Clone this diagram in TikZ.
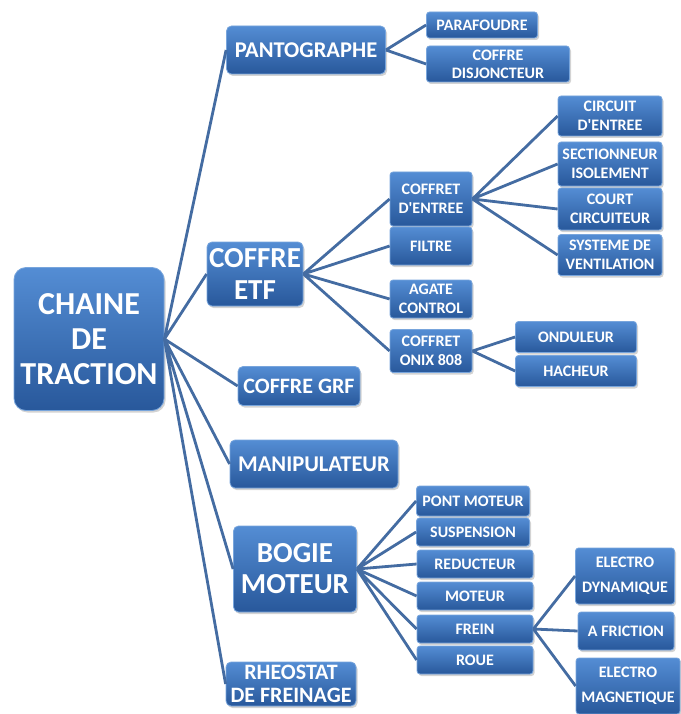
\documentclass[tikz,border=0pt]{standalone}
\usepackage{fontspec}
\setmainfont{Carlito}
\usetikzlibrary{shadows}
\definecolor{boxtop}{RGB}{84,141,212}
\definecolor{boxbot}{RGB}{40,88,155}
\definecolor{boxedge}{RGB}{120,165,220}
\definecolor{lien}{RGB}{68,108,162}
\tikzset{
	boite/.style = {align=center, inner sep=0pt, text centered, text=white,
		rounded corners=3pt, top color=boxtop, bottom color=boxbot,
		draw=boxedge, line width=0.8pt,
		drop shadow={opacity=0.35, shadow xshift=1.5pt, shadow yshift=-2pt}},
	racine/.style = {boite, rounded corners=12pt,
		font=\fontsize{32}{35}\selectfont\bfseries},% noeud principal
	niv_a/.style = {boite, rounded corners=5pt,
		font=\fontsize{22.5}{25}\selectfont\bfseries},% premier niveau
	niv_b/.style = {boite, font=\fontsize{16}{19}\selectfont\bfseries},% sous-ensembles
	lien/.style = {draw=lien, line width=2.8pt}
}
\begin{document}
\begin{tikzpicture}[x=1pt,y=-1pt]
	\useasboundingbox (0,0) rectangle (680,714);
	% racine
	\node [racine, minimum width=150pt, minimum height=143pt] (chaine) at (89,339) {CHAINE\\DE\\TRACTION};
	% premier niveau
	\node [niv_a, minimum width=159pt, minimum height=48pt] (panto) at (306,50) {PANTOGRAPHE};
	\node [niv_a, font=\fontsize{29}{32}\selectfont\bfseries, minimum width=96pt, minimum height=64pt] (etf) at (255,274) {COFFRE\\ETF};
	\node [niv_a, font=\fontsize{22}{25}\selectfont\bfseries, minimum width=122pt, minimum height=39pt] (grf) at (299,386) {COFFRE GRF};
	\node [niv_a, minimum width=168pt, minimum height=48pt] (manip) at (314,464) {MANIPULATEUR};
	\node [niv_a, font=\fontsize{29}{31}\selectfont\bfseries, minimum width=123pt, minimum height=86pt] (bogie) at (295,569) {BOGIE\\MOTEUR};
	\node [niv_a, font=\fontsize{22}{23}\selectfont\bfseries, minimum width=130pt, minimum height=44pt] (rheo) at (291,684) {RHEOSTAT\\DE FREINAGE};
	% pantographe
	\node [niv_b, minimum width=111pt, minimum height=26pt] (parafoudre) at (482,25) {PARAFOUDRE};
	\node [niv_b, font=\fontsize{16}{18}\selectfont\bfseries, minimum width=143pt, minimum height=36pt] (disj) at (498,64) {COFFRE\\DISJONCTEUR};
	% coffre etf
	\node [niv_b, minimum width=82pt, minimum height=54pt] (centree) at (431,199) {COFFRET\\D\textquotesingle ENTREE};
	\node [niv_b, minimum width=82pt, minimum height=38pt] (filtre) at (431,246) {FILTRE};
	\node [niv_b, minimum width=82pt, minimum height=38pt] (agate) at (431,299) {AGATE\\CONTROL};
	\node [niv_b, minimum width=82pt, minimum height=43pt] (onix) at (431,351) {COFFRET\\ONIX 808};
	\node [niv_b, minimum width=104pt, minimum height=40pt] (circuit) at (610,116) {CIRCUIT\\D\textquotesingle ENTREE};
	\node [niv_b, minimum width=104pt, minimum height=44pt] (section) at (610,164) {SECTIONNEUR\\ISOLEMENT};
	\node [niv_b, minimum width=104pt, minimum height=42pt] (court) at (610,209) {COURT\\CIRCUITEUR};
	\node [niv_b, minimum width=104pt, minimum height=41pt] (ventil) at (610,255) {SYSTEME DE\\VENTILATION};
	\node [niv_b, minimum width=121pt, minimum height=31pt] (onduleur) at (576,337) {ONDULEUR};
	\node [niv_b, minimum width=121pt, minimum height=31pt] (hacheur) at (576,371) {HACHEUR};
	% bogie moteur
	\node [niv_b, minimum width=113pt, minimum height=30pt] (pont) at (473,501) {PONT MOTEUR};
	\node [niv_b, minimum width=113pt, minimum height=28pt] (susp) at (473,532) {SUSPENSION};
	\node [niv_b, minimum width=116pt, minimum height=28pt] (reduc) at (475,564) {REDUCTEUR};
	\node [niv_b, minimum width=116pt, minimum height=28pt] (moteur) at (475,596) {MOTEUR};
	\node [niv_b, minimum width=116pt, minimum height=28pt] (frein) at (475,629) {FREIN};
	\node [niv_b, minimum width=116pt, minimum height=28pt] (roue) at (475,660) {ROUE};
	\node [niv_b, font=\fontsize{16}{25}\selectfont\bfseries, minimum width=99pt, minimum height=56pt] (edyn) at (625,576) {ELECTRO\\DYNAMIQUE};
	\node [niv_b, minimum width=96pt, minimum height=38pt] (afric) at (626,631) {A FRICTION};
	\node [niv_b, font=\fontsize{16}{25}\selectfont\bfseries, minimum width=104pt, minimum height=56pt] (emag) at (628,686) {ELECTRO\\MAGNETIQUE};
	% liens
	\draw [lien] (chaine.east) -- (panto.west) (chaine.east) -- (etf.west)
		(chaine.east) -- (grf.west) (chaine.east) -- (manip.west)
		(chaine.east) -- (bogie.west) (chaine.east) -- (rheo.west);
	\draw [lien] (panto.east) -- (parafoudre.west) (panto.east) -- (disj.west);
	\draw [lien] (etf.east) -- (centree.west) (etf.east) -- (filtre.west)
		(etf.east) -- (agate.west) (etf.east) -- (onix.west);
	\draw [lien] (centree.east) -- (circuit.west) (centree.east) -- (section.west)
		(centree.east) -- (court.west) (centree.east) -- (ventil.west);
	\draw [lien] (onix.east) -- (onduleur.west) (onix.east) -- (hacheur.west);
	\draw [lien] (bogie.east) -- (pont.west) (bogie.east) -- (susp.west)
		(bogie.east) -- (reduc.west) (bogie.east) -- (moteur.west)
		(bogie.east) -- (frein.west) (bogie.east) -- (roue.west);
	\draw [lien] (frein.east) -- (edyn.west) (frein.east) -- (afric.west)
		(frein.east) -- (emag.west);
\end{tikzpicture}
\end{document}
